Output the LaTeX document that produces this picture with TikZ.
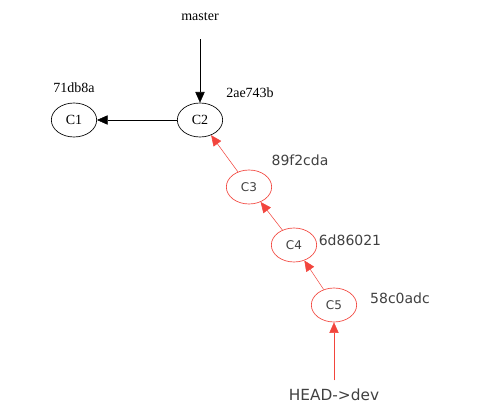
\documentclass[tikz,border=0pt]{standalone}
\usepackage{fontspec}
\setmainfont{Liberation Serif}
\newfontfamily\hashfont{DejaVu Sans}
\usetikzlibrary{arrows.meta, shapes.geometric}

\begin{document}
\begin{tikzpicture}[
      x=0.75pt, y=-0.75pt,
      commit/.style={draw, ellipse, line width=0.5pt, minimum width=34pt, minimum height=25.5pt, inner sep=0pt, font=\fontsize{10.5}{12}\selectfont},
      newcommit/.style={commit, draw=gitred, text=black!75, font=\hashfont\fontsize{9}{10}\selectfont},
      hash/.style={font=\fontsize{10.5}{12}\selectfont},
      newhash/.style={text=black!75, font=\hashfont\fontsize{10.5}{12}\selectfont},
      >={Triangle[length=8pt, width=7pt]}
    ]
    \definecolor{gitred}{HTML}{F2453D}
    \useasboundingbox (0,0) rectangle (482,416);

    % Nodes
    \node[commit] (c1) at (74,120) {C1};
    \node[commit] (c2) at (200,120) {C2};
    \node[newcommit] (c3) at (249,187) {C3};
    \node[newcommit] (c4) at (294,245) {C4};
    \node[newcommit] (c5) at (334,305) {C5};
    \node[font=\fontsize{10.5}{12}\selectfont] (master) at (200,17) {master};
    \node[newhash, font=\hashfont\fontsize{11.5}{13}\selectfont] (head) at (334,395) {HEAD->dev};

    % Labels
    \node[hash] (h1) at (74,88) {71db8a};
    \node[hash] (h2) at (250,93) {2ae743b};
    \node[newhash] (h3) at (300,160) {89f2cda};
    \node[newhash] (h4) at (350,240) {6d86021};
    \node[newhash] (h5) at (400,298) {58c0adc};

    % Arrows
    \draw[->] (c2) -- (c1);
    \draw[->, shorten <=10pt] (master) -- (c2);
    \draw[->, gitred] (c3) -- (c2);
    \draw[->, gitred] (c4) -- (c3);
    \draw[->, gitred] (c5) -- (c4);
    \draw[->, gitred, shorten <=3pt] (head) -- (c5);

  \end{tikzpicture}
\end{document}
